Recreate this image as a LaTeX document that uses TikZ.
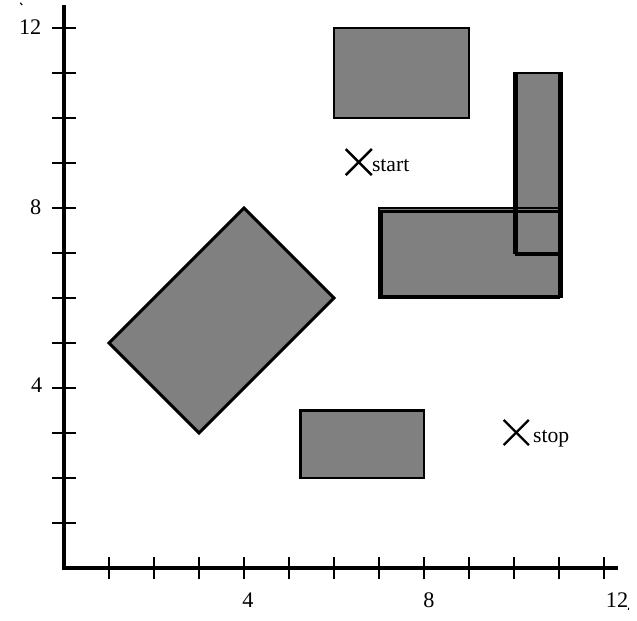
\documentclass[tikz,border=0pt]{standalone}
\usepackage{fontspec}
\setmainfont{Liberation Serif}
\usetikzlibrary{calc}
\begin{document}
\begin{tikzpicture}[x=1.35cm,y=1.35cm,
  axis/.style={line width=3pt},
  tick/.style={line width=2.3pt},
  obstfill/.style={fill=black!50},
  obstline/.style={draw=black,line width=2.5pt},
  cross/.style={line width=2pt},
  numlab/.style={font=\fontsize{19}{19}\selectfont,inner sep=0pt},
  ptlab/.style={font=\fontsize{18.5}{18.5}\selectfont,inner sep=0pt,anchor=base west}]
\useasboundingbox (-1.4222,-1.1556) rectangle (12.7333,12.6222);
% axes
\coordinate (O) at (0,0);
\coordinate (Ytop) at (0,12.5);
\coordinate (Xend) at (12.31,0);
\draw[axis] (Ytop) -- (O) -- (Xend);
\foreach \i in {1,...,12} {
  \draw[tick] (-0.27,\i) -- (0.27,\i);
  \draw[tick] (\i,-0.25) -- (\i,0.25);
}
\node[numlab,anchor=east] (y12) at (-0.5,12.02) {12};
\node[numlab,anchor=east] (y8) at (-0.5,8.02) {8};
\node[numlab,anchor=east] (y4) at (-0.48,4.07) {4};
\node[numlab] (x4) at (4.09,-0.71) {4};
\node[numlab] (x8) at (8.11,-0.71) {8};
\node[numlab] (x12) at (12.29,-0.71) {12};
% stray marks
\draw[line width=1pt] (-0.97,12.56) -- (-0.93,12.51);
\draw[line width=0.8pt] (12.55,-0.88) -- (12.54,-0.93);
% obstacles: fills first, then outlines
\fill[obstfill] (6,10) rectangle (9,12);
\fill[obstfill] (1,5) -- (4,8) -- (6,6) -- (3,3) -- cycle;
\fill[obstfill] (5.25,2) rectangle (8,3.5);
\fill[obstfill] (7,6) rectangle (11,8);
\fill[obstfill] (10,7) rectangle (11,11);
\draw[obstline] (6,10) rectangle (9,12);
\draw[obstline,line join=miter] (1,5) -- (4,8) -- (6,6) -- (3,3) -- cycle;
\draw[obstline] (5.25,2) rectangle (8,3.5);
\draw[obstline] (7,6) rectangle (11,8);
\draw[obstline] (7.06,6.04) rectangle (11.05,7.93);
\draw[obstline] (10,7) rectangle (11,11);
\draw[obstline] (10.05,6.96) rectangle (11.05,11);
% start / stop
\coordinate (S) at (6.55,9.02);
\coordinate (T) at (10.05,3.01);
\draw[cross] ($(S)+(-0.29,-0.29)$) -- ($(S)+(0.29,0.29)$);
\draw[cross] ($(S)+(-0.29,0.29)$) -- ($(S)+(0.29,-0.29)$);
\draw[cross] ($(T)+(-0.28,-0.28)$) -- ($(T)+(0.28,0.28)$);
\draw[cross] ($(T)+(-0.28,0.28)$) -- ($(T)+(0.28,-0.28)$);
\node[ptlab] (startlab) at (6.84,8.82) {start};
\node[ptlab] (stoplab) at (10.42,2.78) {stop};
\end{tikzpicture}
\end{document}
